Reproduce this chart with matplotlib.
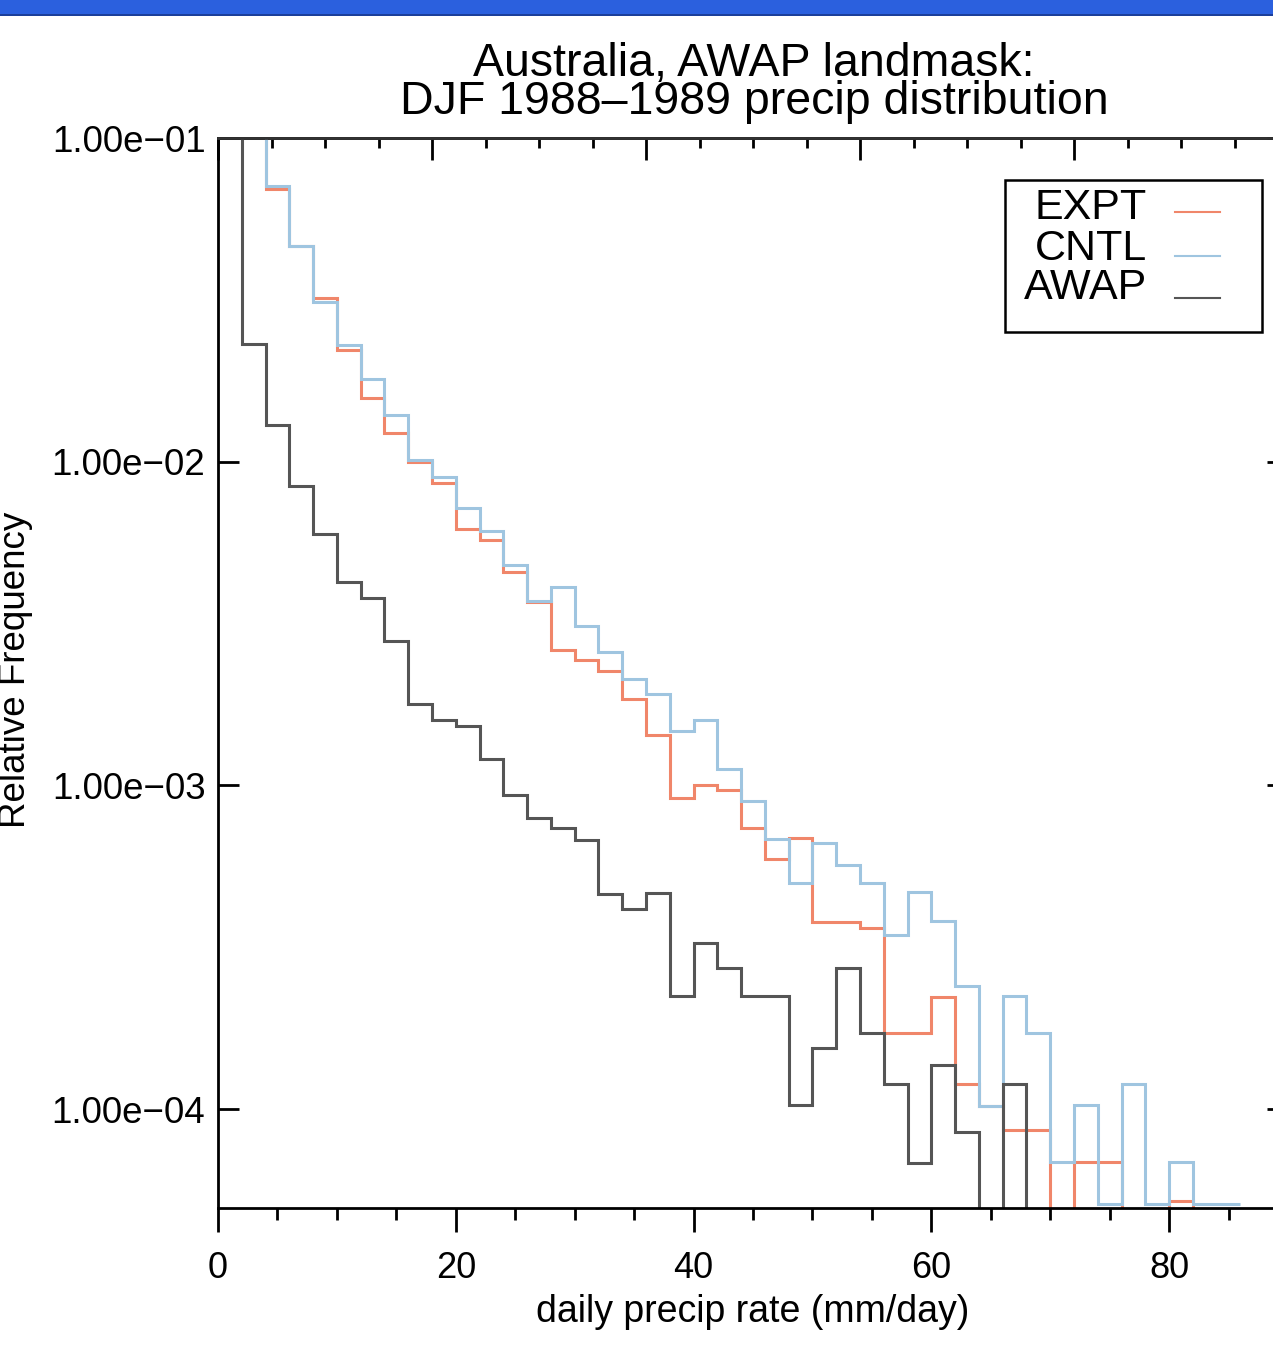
import numpy as np
import matplotlib
matplotlib.use("Agg")
import matplotlib.pyplot as plt
from matplotlib.patches import Rectangle
from matplotlib.ticker import FixedLocator, MultipleLocator, NullLocator

plt.rcParams['font.family'] = ['Liberation Sans', 'DejaVu Sans']

# histogram bins, 2 mm/day wide
bin_edges = np.arange(0, 88, 2)

# relative frequency per bin (0 = empty bin)
expt = [0.3, 0.15, 0.0695, 0.0465, 0.0321, 0.0221, 0.0157, 0.01224, 0.0100, 0.0086,
        0.0062, 0.00573, 0.00457, 0.00368, 0.00262, 0.00244, 0.00226, 0.00185, 0.00143, 0.000914,
        0.00100, 0.000968, 0.000738, 0.000591, 0.000688, 0.000379, 0.000379, 0.000362, 0.000172, 0.000172,
        0.000222, 0.000120, 0.000102, 8.6e-5, 8.6e-5, 0, 6.85e-5, 6.85e-5, 0, 0,
        5.2e-5, 0, 0]
cntl = [0.3, 0.15, 0.0713, 0.0465, 0.0312, 0.0230, 0.0180, 0.0139, 0.0101, 0.0090,
        0.00722, 0.00611, 0.00480, 0.00370, 0.00411, 0.00311, 0.00259, 0.00213, 0.00191, 0.00147,
        0.00159, 0.00112, 0.000897, 0.000684, 0.000500, 0.000665, 0.000567, 0.000500, 0.000345, 0.000467,
        0.000380, 0.000240, 0.000102, 0.000223, 0.000172, 6.87e-5, 0.000103, 5.1e-5, 0.000120, 5.1e-5,
        6.87e-5, 5.1e-5, 5.1e-5]
awap = [0.3, 0.0231, 0.0130, 0.0084, 0.0060, 0.00426, 0.00378, 0.00280, 0.00179, 0.00159,
        0.00153, 0.00121, 0.000933, 0.000794, 0.000739, 0.000678, 0.000461, 0.000414, 0.000465, 0.000223,
        0.000327, 0.000273, 0.000223, 0.000223, 0.000103, 0.000155, 0.000273, 0.000172, 0.000120, 6.83e-5,
        0.000137, 8.5e-5, 0, 0.000120, 0, 0, 0, 0, 0, 0,
        0, 0, 0]

series_names = ['EXPT', 'CNTL', 'AWAP']
series_colors = ['#f0866a', '#9fc5e0', '#555555']

ytick_vals = [1e-1, 1e-2, 1e-3, 1e-4]
ytick_labels = ['1.00e\u221201', '1.00e\u221202', '1.00e\u221203', '1.00e\u221204']

W, H = 1273, 1349
fig = plt.figure(figsize=(W / 100, H / 100), dpi=100, facecolor='white')

# blue strip at the very top
fig.patches.append(Rectangle((0, 1 - 15 / H), 1, 15 / H, transform=fig.transFigure,
                             facecolor='#2b60de', edgecolor='none'))
fig.patches.append(Rectangle((0, 1 - 16 / H), 1, 2 / H, transform=fig.transFigure,
                             facecolor='#1c3f9a', edgecolor='none'))

# axes box: x 218..1288 px, y 138..1208 px (right edge runs past the image)
AX_L, AX_T, AX_S = 218, 138, 1070
ax = fig.add_axes([AX_L / W, (H - AX_T - AX_S) / H, AX_S / W, AX_S / H])


def ax_xy(px, py):
    # pixel position in the picture -> axes fraction
    return (px - AX_L) / AX_S, 1 - (py - AX_T) / AX_S


for vals, name, col in zip([expt, cntl, awap], series_names, series_colors):
    v = np.array(vals, dtype=float)
    v = np.where(v > 0, v, 1e-8)
    ax.stairs(v, bin_edges, baseline=None, color=col, lw=2.2, label=name)

ax.set_yscale('log')
ax.set_ylim(4.95e-5, 0.1)
ax.set_xlim(0, 90)

ax.yaxis.set_major_locator(FixedLocator(ytick_vals))
ax.set_yticklabels(ytick_labels)
ax.yaxis.set_minor_locator(NullLocator())
ax.set_xticks([0, 20, 40, 60, 80])
ax.xaxis.set_minor_locator(MultipleLocator(5))

ax.tick_params(axis='y', which='major', direction='in', length=15, width=2,
               left=True, right=True, labelsize=26.5, pad=9)
ax.tick_params(axis='x', which='major', direction='out', length=17, width=2,
               top=False, labelsize=26, pad=14)
ax.tick_params(axis='x', which='minor', direction='out', length=8.5, width=2, top=False)
for s in ax.spines.values():
    s.set_linewidth(2)
ax.spines['top'].set_color('#333333')

# top axis has its own 0-100 scale
secax = ax.secondary_xaxis('top', functions=(lambda x: x * 100 / 90, lambda x: x * 90 / 100))
secax.set_xticks([0, 20, 40, 60, 80, 100])
secax.xaxis.set_minor_locator(MultipleLocator(5))
secax.tick_params(which='major', direction='in', length=16, width=2, labeltop=False)
secax.tick_params(which='minor', direction='in', length=7, width=2)
secax.spines['top'].set_linewidth(2)

ax.set_xlabel('daily precip rate (mm/day)', fontsize=27, labelpad=6)

fig.text(754 / W, 1 - 114 / H, 'Australia, AWAP landmask:\nDJF 1988\u20131989 precip distribution',
         fontsize=33.5, ha='center', va='baseline', multialignment='center', linespacing=0.82)
fig.text(33 / W, 1 - 670 / H, 'Relative Frequency', fontsize=26.5, rotation=90,
         ha='right', va='center')

# legend drawn as a box with labels left, line keys right
x0, y0 = ax_xy(1005, 332)
x1, y1 = ax_xy(1262, 180)
ax.add_patch(Rectangle((x0, y0), x1 - x0, y1 - y0, transform=ax.transAxes,
                       facecolor='white', edgecolor='black', lw=1.8, zorder=5))
label_y = [208, 249, 288]
key_y = [212, 256, 298]
for name, col, ty, ky in zip(series_names, series_colors, label_y, key_y):
    tx, tyy = ax_xy(1147, ty)
    ax.text(tx, tyy, name, transform=ax.transAxes, fontsize=31, ha='right', va='center', zorder=6)
    kx0, kyy = ax_xy(1175, ky)
    kx1, _ = ax_xy(1220, ky)
    ax.plot([kx0, kx1], [kyy, kyy], transform=ax.transAxes, color=col, lw=1.5, zorder=6)

fig.savefig('out.png', dpi=100, facecolor='white')
